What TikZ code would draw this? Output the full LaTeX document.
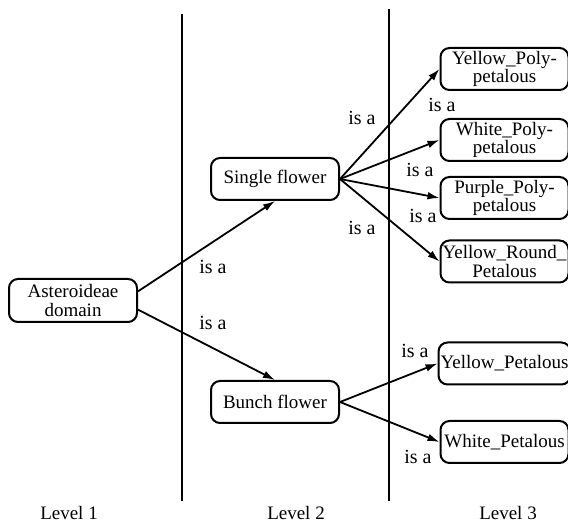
\documentclass[tikz,border=0pt]{standalone}
\usepackage{fontspec}
\setmainfont{Liberation Serif}
\usetikzlibrary{arrows.meta}

\begin{document}
\begin{tikzpicture}[x=0.5pt,y=-0.5pt,
    box/.style={draw,rectangle,rounded corners=4.5pt,line width=1pt,
      minimum width=64pt,minimum height=21pt,inner sep=1pt,align=center,
      font=\fontsize{9.5}{9.2}\selectfont},
    isalbl/.style={inner sep=0pt,font=\fontsize{10}{10}\selectfont},
    levellbl/.style={inner sep=0pt,font=\fontsize{9.5}{9.5}\selectfont},
    isa/.style={-{Latex[length=6pt,width=3.8pt]},line width=0.9pt}]
  \useasboundingbox (0,0) rectangle (568,523);

  % レベルの区切り
  \coordinate (sep1top) at (182,14);
  \coordinate (sep1bot) at (182,501);
  \coordinate (sep2top) at (389,9);
  \coordinate (sep2bot) at (389,501);
  \draw[line width=1.1pt] (sep1top) -- (sep1bot);
  \draw[line width=1.1pt] (sep2top) -- (sep2bot);

  % ノード
  \node[box,minimum height=21.5pt] (domain) at (73,300.5) {Asteroideae\\domain};
  \node[box] (single) at (275,179) {Single flower};
  \node[box] (bunch) at (275,402) {Bunch flower};

  \node[box] (ypoly) at (504.5,69) {Yellow\_Poly-\\petalous};
  \node[box] (wpoly) at (504.5,140) {White\_Poly-\\petalous};
  \node[box] (ppoly) at (504.5,198) {Purple\_Poly-\\petalous};
  \node[box] (yround) at (504.5,261.5) {Yellow\_Round\_\\Petalous};
  \node[box] (ypet) at (504.5,363.5) {Yellow\_Petalous};
  \node[box] (wpet) at (504.5,442) {White\_Petalous};

  % 矢印
  \draw[isa] (domain.8) -- (single.south);
  \draw[isa] (domain.-8) -- (bunch.north);
  \draw[isa] (single.east) -- (ypoly.west);
  \draw[isa] (single.east) -- (wpoly.west);
  \draw[isa] (single.east) -- (ppoly.west);
  \draw[isa] (single.east) -- (yround.west);
  \draw[isa] (bunch.east) -- (ypet.west);
  \draw[isa] (bunch.east) -- (wpet.west);

  % ラベル
  \node[isalbl] (isa1) at (213,267) {is a};
  \node[isalbl] (isa2) at (213,323) {is a};
  \node[isalbl] (isa3) at (362,118) {is a};
  \node[isalbl] (isa4) at (442,105) {is a};
  \node[isalbl] (isa5) at (420,170) {is a};
  \node[isalbl] (isa6) at (423,216) {is a};
  \node[isalbl] (isa7) at (362,228) {is a};
  \node[isalbl] (isa8) at (415,351) {is a};
  \node[isalbl] (isa9) at (418,457) {is a};

  \node[levellbl] (lev1) at (69,513) {Level 1};
  \node[levellbl] (lev2) at (296,513) {Level 2};
  \node[levellbl] (lev3) at (508,513) {Level 3};
\end{tikzpicture}
\end{document}
